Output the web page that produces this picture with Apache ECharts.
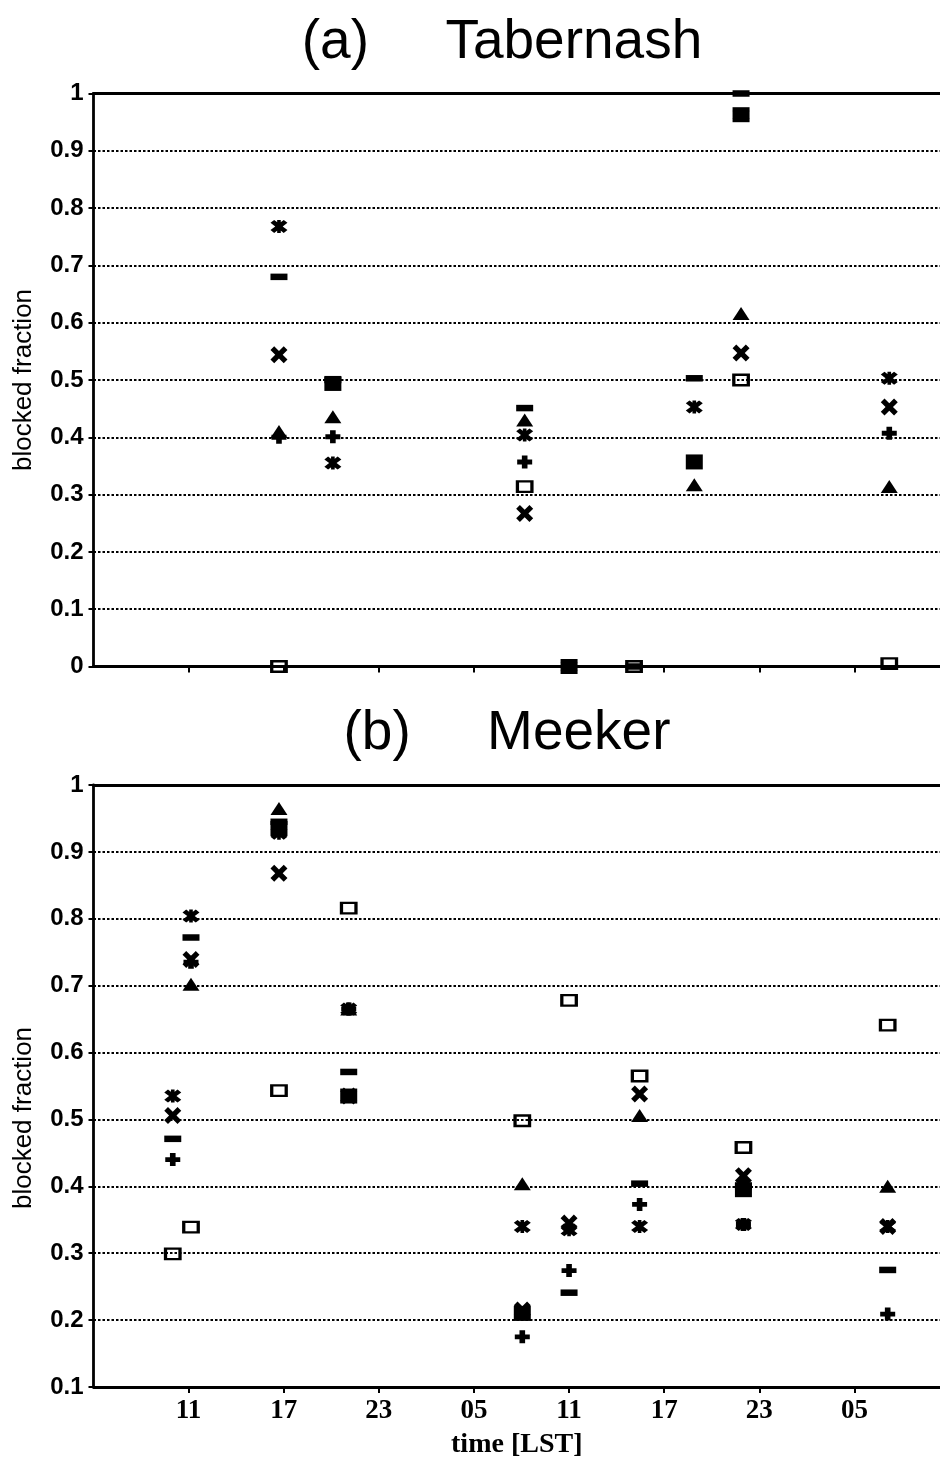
<!DOCTYPE html>
<html>
<head>
<meta charset="utf-8">
<script src="https://cdn.jsdelivr.net/npm/echarts/dist/echarts.min.js"></script>
<style>
html,body{margin:0;padding:0;background:#fff;}
#chart{width:940px;height:1460px;}
</style>
</head>
<body>
<div id="chart"></div>
<script>
// x values are clock hours counted from 00 LST of the first day
const xTicks = [11, 17, 23, 29, 35, 41, 47, 53];
const yTicksTop = [0, 0.1, 0.2, 0.3, 0.4, 0.5, 0.6, 0.7, 0.8, 0.9, 1];
const yTicksBottom = [0.1, 0.2, 0.3, 0.4, 0.5, 0.6, 0.7, 0.8, 0.9, 1];

// (a) Tabernash
const tabOpenSq   = [[16.7,0.0],[32.2,0.314],[39.1,0.0],[45.85,0.50],[55.2,0.005]];
const tabStar     = [[16.7,0.768],[20.1,0.355],[32.2,0.404],[35.0,0.0],[42.9,0.453],[45.85,0.963],[55.2,0.503]];
const tabX        = [[16.7,0.544],[32.2,0.267],[45.85,0.547],[55.2,0.453]];
const tabMinus    = [[16.7,0.680],[20.1,0.50],[32.2,0.451],[39.1,0.0],[42.9,0.503],[45.85,1.0]];
const tabPlus     = [[16.7,0.40],[20.1,0.401],[32.2,0.357],[55.2,0.407]];
const tabTri      = [[16.7,0.41],[20.1,0.436],[32.2,0.430],[42.9,0.317],[45.85,0.616],[55.2,0.314]];
const tabFilledSq = [[20.1,0.494],[35.0,0.0],[42.9,0.357],[45.85,0.963]];

// (b) Meeker
const meeOpenSq   = [[10.0,0.299],[11.15,0.339],[16.7,0.543],[21.1,0.816],[32.05,0.498],[35.0,0.678],[39.45,0.565],[46.0,0.458],[55.1,0.641]];
const meeStar     = [[10.0,0.535],[11.15,0.804],[16.7,0.928],[21.1,0.665],[32.05,0.340],[35.0,0.335],[39.45,0.340],[46.0,0.343],[55.1,0.340]];
const meeX        = [[10.0,0.506],[11.15,0.739],[16.7,0.868],[21.1,0.535],[32.05,0.215],[35.0,0.345],[39.45,0.538],[46.0,0.416],[55.1,0.340]];
const meeMinus    = [[10.0,0.471],[11.15,0.772],[16.7,0.945],[21.1,0.571],[35.0,0.241],[39.45,0.404],[46.0,0.40],[55.1,0.275]];
const meePlus     = [[10.0,0.44],[11.15,0.735],[16.7,0.935],[21.1,0.665],[32.05,0.175],[35.0,0.274],[39.45,0.373],[46.0,0.343],[55.1,0.209]];
const meeTri      = [[11.15,0.702],[16.7,0.965],[21.1,0.665],[32.05,0.404],[39.45,0.506],[46.0,0.405],[55.1,0.40]];
const meeFilledSq = [[16.7,0.935],[21.1,0.535],[32.05,0.21],[46.0,0.395]];

const titleA = '(a)     Tabernash';
const titleB = '(b)     Meeker';
const yName = 'blocked fraction';
const xName = 'time [LST]';

const symX = 'path://M0,3.5 L3.5,0 L8,4.5 L12.5,0 L16,3.5 L11.5,8 L16,12.5 L12.5,16 L8,11.5 L3.5,16 L0,12.5 L4.5,8 Z';
const symStar = 'path://M0,3.5 L3.5,0 L8,4.5 L12.5,0 L16,3.5 L11.5,8 L16,12.5 L12.5,16 L8,11.5 L3.5,16 L0,12.5 L4.5,8 Z M6.3,0 L9.7,0 L9.7,16 L6.3,16 Z';
const symPlus = 'path://M5,0 L11,0 L11,5 L16,5 L16,11 L11,11 L11,16 L5,16 L5,11 L0,11 L0,5 L5,5 Z';

const chart = echarts.init(document.getElementById('chart'), null, {renderer:'canvas'});

const sans = '"Liberation Sans", Arial, sans-serif';
const serif = '"Liberation Serif", "Times New Roman", serif';

function ser(data, panel, kind){
  const s = {type:'scatter', data:data, xAxisIndex: panel*2, yAxisIndex: panel, silent:true,
    emphasis:{disabled:true}, itemStyle:{color:'#000', opacity:1}, z:3};
  if(kind==='open'){ s.symbol='rect'; s.symbolSize=[14.5,10.5]; s.itemStyle={color:'rgba(0,0,0,0)', borderColor:'#000', borderWidth:2.8, opacity:1}; s.z=4; }
  else if(kind==='star'){ s.symbol=symStar; s.symbolSize=[17,13]; }
  else if(kind==='x'){ s.symbol=symX; s.symbolSize=[17,17]; }
  else if(kind==='minus'){ s.symbol='rect'; s.symbolSize=[17,6.5]; }
  else if(kind==='plus'){ s.symbol=symPlus; s.symbolSize=[15,13]; }
  else if(kind==='tri'){ s.symbol='triangle'; s.symbolSize=[17,13]; }
  else if(kind==='fsq'){ s.symbol='rect'; s.symbolSize=[17,15]; }
  return s;
}

function yLabel(v){ return String(Math.round(v*10)/10); }

function xAxes(grid, showLabels){
  return [
    {gridIndex:grid, type:'value', min:5, max:58.4, position:'bottom',
      axisLine:{show:true, onZero:false, lineStyle:{color:'#000', width:2.8}},
      axisTick:{show:true, length:6, customValues:xTicks, lineStyle:{color:'#000', width:2}},
      axisLabel:{show:showLabels, customValues:xTicks, margin:11, color:'#000', fontFamily:serif, fontSize:27, fontWeight:'bold',
        formatter:function(v){ const h=((Math.round(v)%24)+24)%24; return (h<10?'0':'')+h; }},
      splitLine:{show:false},
      name: showLabels ? xName : '', nameLocation:'middle', nameGap:44,
      nameTextStyle:{color:'#000', fontFamily:serif, fontSize:28, fontWeight:'bold'}
    },
    {gridIndex:grid, type:'value', min:5, max:58.4, position:'top',
      axisLine:{show:true, onZero:false, lineStyle:{color:'#000', width:2.8}},
      axisTick:{show:false}, axisLabel:{show:false}, splitLine:{show:false}}
  ];
}

function yAxis(grid, min, ticks){
  return {gridIndex:grid, type:'value', min:min, max:1, interval:0.1,
    axisLine:{show:true, onZero:false, lineStyle:{color:'#000', width:2.8}},
    axisTick:{show:true, length:5, lineStyle:{color:'#000', width:2}},
    axisLabel:{margin:10, color:'#000', fontFamily:sans, fontSize:24, fontWeight:'bold', formatter:yLabel},
    splitLine:{show:true, lineStyle:{color:'#000', width:2, type:[2.5,2]}}
  };
}

const option = {
  backgroundColor:'#fff',
  animation:false,
  title:[
    {text:titleA, left:497, top:10, textAlign:'center',
      textStyle:{fontFamily:sans, fontSize:55, fontWeight:'normal', color:'#000'}},
    {text:titleB, left:502, top:701, textAlign:'center',
      textStyle:{fontFamily:sans, fontSize:55, fontWeight:'normal', color:'#000'}}
  ],
  grid:[
    {left:93.5, top:93.5, width:846.5, height:573},
    {left:93.5, top:785, width:846.5, height:603.7}
  ],
  xAxis: xAxes(0,false).concat(xAxes(1,true)),
  yAxis: [yAxis(0,0,yTicksTop), yAxis(1,0.1,yTicksBottom)],
  graphic:[
    {type:'text', x:24, y:380, rotation:Math.PI/2,
      style:{text:yName, font:'26px "Liberation Sans", Arial, sans-serif', fill:'#000', textAlign:'center', textVerticalAlign:'middle'}},
    {type:'text', x:24, y:1118, rotation:Math.PI/2,
      style:{text:yName, font:'26px "Liberation Sans", Arial, sans-serif', fill:'#000', textAlign:'center', textVerticalAlign:'middle'}}
  ],
  series:[
    ser(tabOpenSq,0,'open'), ser(tabStar,0,'star'), ser(tabX,0,'x'), ser(tabMinus,0,'minus'),
    ser(tabPlus,0,'plus'), ser(tabTri,0,'tri'), ser(tabFilledSq,0,'fsq'),
    ser(meeOpenSq,1,'open'), ser(meeStar,1,'star'), ser(meeX,1,'x'), ser(meeMinus,1,'minus'),
    ser(meePlus,1,'plus'), ser(meeTri,1,'tri'), ser(meeFilledSq,1,'fsq')
  ]
};
chart.setOption(option);
</script>
</body>
</html>
